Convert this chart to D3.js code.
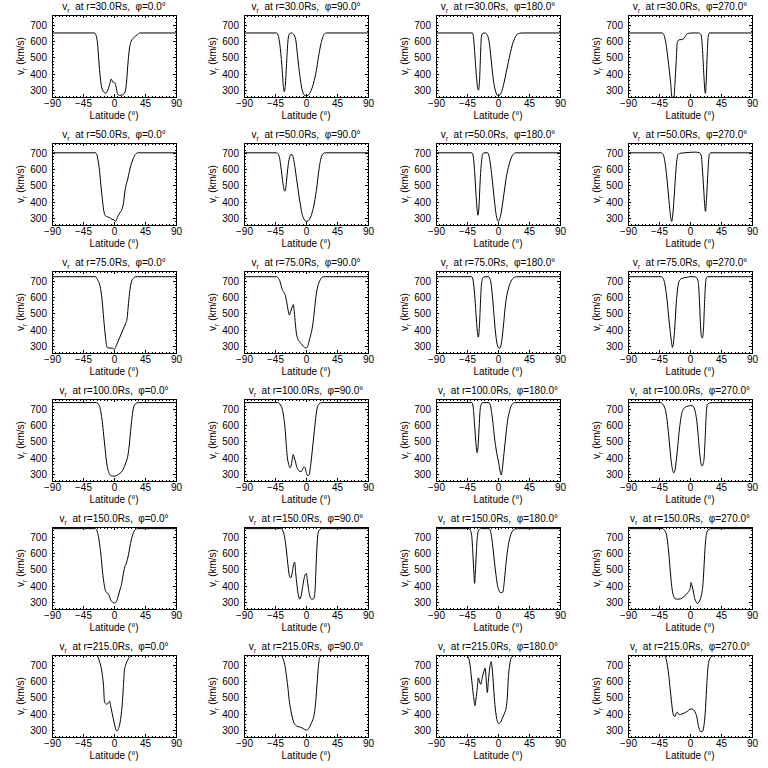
<!DOCTYPE html>
<html><head><meta charset="utf-8">
<script src="https://cdn.jsdelivr.net/npm/d3@7"></script>
<style>
body{margin:0;background:#fff}
text{font-family:"Liberation Sans","DejaVu Sans",sans-serif;fill:#000;white-space:pre}
</style>
</head><body><svg id="chart" width="768" height="768"></svg>
<script>
// ---- data ----
const radii = [30, 50, 75, 100, 150, 215];
const phis = [0, 90, 180, 270];
const xTicks = [-90, -45, 0, 45, 90];
const yTicks = [300, 400, 500, 600, 700];
const latDomain = [-90, 90];
const vDomain = [258, 760];

const v30_p0 = [[-90,650],[-28,650],[-26,635],[-24,590],[-22,480],[-20,380],[-18,320],[-15,290],[-12,282],[-9,300],[-6,340],[-4,368],[-2,352],[1,345],[3,320],[5,278],[8,268],[12,270],[16,288],[18,340],[20,450],[22,540],[25,600],[29,622],[34,640],[38,650],[90,650]];
const v30_p90 = [[-90,650],[-43,650],[-40,630],[-38,580],[-35,450],[-33,330],[-31.5,290],[-30,330],[-28,480],[-26,610],[-24,645],[-21,650],[-18,642],[-15,610],[-12,500],[-9,390],[-6,310],[-3,272],[0,265],[3,268],[6,285],[9,315],[12,360],[15,420],[18,500],[21,570],[24,620],[27,645],[30,650],[90,650]];
const v30_p180 = [[-90,650],[-37,650],[-35,600],[-33,480],[-31,370],[-28.5,300],[-27,340],[-25.5,500],[-24,630],[-22,648],[-19,650],[-16,640],[-13,600],[-10,490],[-7,370],[-4,300],[-2,275],[0,265],[3,272],[6,300],[9,350],[12,410],[15,470],[18,530],[21,580],[24,615],[27,638],[31,648],[35,650],[90,650]];
const v30_p270 = [[-90,650],[-40,650],[-38,640],[-36,610],[-34,560],[-32,490],[-30,420],[-28,340],[-26,250],[-23.5,250],[-22,330],[-20,480],[-18.5,590],[-16,608],[-12,610],[-9,615],[-7,628],[-5,642],[-2,648],[2,650],[12,650],[16,640],[18,560],[20,400],[21.5,300],[22.5,280],[23.5,350],[25,520],[26.5,630],[28,650],[90,650]];

const v50_p0 = [[-90,700],[-27,700],[-25,690],[-23,650],[-21,590],[-19,500],[-17,420],[-15,350],[-13,318],[-10,308],[-6,303],[-3,292],[0,290],[2,280],[4,295],[6,315],[9,335],[12,360],[14,400],[16,470],[18,510],[20,540],[22,580],[25,630],[28,665],[31,690],[35,700],[90,700]];
const v50_p90 = [[-90,700],[-43,700],[-40,690],[-38,660],[-36,600],[-34,530],[-32,478],[-31,465],[-29.5,480],[-28,540],[-26,620],[-24,670],[-22,690],[-20,688],[-18,660],[-16,610],[-14,550],[-12,490],[-10,430],[-8,380],[-6,330],[-3,295],[0,280],[3,283],[6,300],[9,335],[12,390],[14,440],[16,500],[18,570],[20,630],[22,670],[25,695],[28,700],[90,700]];
const v50_p180 = [[-90,700],[-38,700],[-36,680],[-34,590],[-32,450],[-30,340],[-29,318],[-27.5,380],[-26,520],[-24,640],[-22,695],[-19,700],[-15,700],[-13,680],[-11,630],[-9,560],[-7,480],[-5,400],[-3,330],[-1,290],[0.5,282],[2,290],[4,320],[6,370],[8,430],[10,490],[12,550],[15,610],[18,655],[22,690],[26,700],[90,700]];
const v50_p270 = [[-90,700],[-42,700],[-39,690],[-37,660],[-35,600],[-33,520],[-31,430],[-29,340],[-27.5,290],[-26.5,280],[-25,320],[-23,430],[-21,560],[-19,660],[-17,692],[-13,698],[-8,700],[0,703],[8,704],[14,700],[16.5,680],[18,600],[20,470],[21.5,370],[22.5,342],[24,420],[26,580],[28,690],[30,700],[90,700]];

const v75_p0 = [[-90,725],[-27,725],[-25,715],[-23,700],[-21,680],[-19,640],[-17,570],[-15,470],[-13,380],[-11,310],[-9.5,290],[-6,288],[-2,288],[0,280],[2,290],[5,320],[8,350],[11,380],[14,410],[17,440],[19,470],[21,560],[23,640],[25,690],[28,715],[32,725],[90,725]];
const v75_p90 = [[-90,725],[-43,725],[-40,715],[-38,700],[-36,670],[-34,640],[-32,630],[-30,610],[-28,570],[-26,520],[-24,490],[-22,515],[-20,540],[-18.5,555],[-17,510],[-15.5,440],[-14,380],[-12,345],[-10,330],[-7,315],[-4,300],[-1,290],[1,290],[3,305],[5,340],[7,370],[9,410],[11,470],[13,550],[15,620],[17,665],[20,700],[23,720],[26,725],[90,725]];
const v75_p180 = [[-90,725],[-38,725],[-36,700],[-34,620],[-32,500],[-30,390],[-28.5,355],[-27,420],[-25.5,560],[-24,680],[-22,718],[-19,725],[-14,725],[-12,715],[-10,680],[-8,600],[-6,500],[-4,400],[-2,330],[0,295],[2,285],[4,300],[6,350],[8,430],[10,520],[12,590],[15,650],[18,690],[22,715],[27,725],[90,725]];
const v75_p270 = [[-90,725],[-42,725],[-39,715],[-37,690],[-35,640],[-33,570],[-31,480],[-29,400],[-27,330],[-25.5,292],[-24,320],[-22,420],[-20,560],[-18,650],[-16,695],[-13,712],[-9,718],[-4,722],[0,725],[6,725],[10,718],[12,690],[13.5,600],[15,450],[16.5,360],[18,350],[19.5,400],[21,550],[22.5,680],[24,720],[26,725],[90,725]];

const v100_p0 = [[-90,738],[-25,738],[-23,730],[-21,715],[-19,680],[-17,620],[-15,540],[-13,460],[-11,380],[-9,330],[-7,305],[-5,292],[-2,288],[1,288],[4,292],[7,300],[10,310],[12,320],[15,345],[18,380],[20,410],[22,470],[24,560],[26,640],[28,700],[31,730],[35,738],[90,738]];
const v100_p90 = [[-90,738],[-41,738],[-38,730],[-36,715],[-34,690],[-32,640],[-30,560],[-28.5,470],[-27,400],[-25,360],[-23.5,340],[-22,345],[-20,390],[-18.5,420],[-17,400],[-15,370],[-13,340],[-10,320],[-7,315],[-5,330],[-3,345],[-1.5,340],[0.5,310],[2.5,290],[4.5,295],[6,330],[8,400],[10,480],[12,560],[14,640],[16,700],[19,730],[23,738],[90,738]];
const v100_p180 = [[-90,738],[-38,738],[-36,710],[-34,600],[-32,490],[-30.5,432],[-29,470],[-27.5,580],[-26,690],[-24,730],[-22,738],[-13,738],[-11,720],[-9,670],[-7,600],[-5,520],[-3,460],[-1,410],[1,370],[3,320],[4.5,295],[6,320],[8,400],[10,480],[12,560],[14,630],[17,690],[20,725],[24,738],[90,738]];
const v100_p270 = [[-90,738],[-43,738],[-40,730],[-37,710],[-35,680],[-33,620],[-31,540],[-29,450],[-27,370],[-25,320],[-23.5,308],[-22,320],[-20,380],[-18,460],[-16,550],[-14,620],[-12,670],[-10,695],[-7,710],[-3,716],[1,720],[4,718],[6,705],[8,675],[10,620],[12,530],[14,430],[16,365],[17.5,350],[19,360],[20.5,400],[22,520],[23.5,660],[25,725],[28,735],[33,738],[90,738]];

const v150_p0 = [[-90,750],[-27,750],[-25,740],[-23,710],[-21,660],[-19,590],[-17,500],[-15,430],[-13,380],[-11,360],[-9,355],[-7,340],[-5,315],[-2,300],[1,295],[3,300],[5,320],[7,350],[9,380],[11,410],[13,460],[15,505],[18,540],[21,590],[24,660],[27,710],[30,740],[34,750],[90,750]];
const v150_p90 = [[-90,750],[-36,750],[-34,740],[-32,715],[-30,670],[-28,600],[-26,520],[-24,460],[-22,448],[-20,480],[-18,530],[-16.5,545],[-15,480],[-13,400],[-11,340],[-9,318],[-7,340],[-5,390],[-3,440],[-1,470],[0.5,475],[2,430],[4,370],[6,330],[8,318],[10,318],[12,330],[13.5,400],[15,560],[16.5,680],[18,730],[21,748],[25,750],[90,750]];
const v150_p180 = [[-90,750],[-42,750],[-40,740],[-38,700],[-36.5,600],[-35,480],[-34,415],[-33,470],[-31.5,600],[-30,700],[-28,740],[-25,750],[-13,750],[-11,735],[-9,690],[-7,620],[-5,540],[-3,470],[-1,410],[1,375],[3,360],[5,358],[7,362],[9,420],[11,510],[13,590],[15,650],[18,705],[21,735],[25,748],[30,750],[90,750]];
const v150_p270 = [[-90,750],[-40,750],[-37,740],[-34,710],[-32,650],[-30,560],[-28,460],[-26,380],[-24,340],[-22,322],[-18,318],[-14,320],[-10,330],[-6,345],[-3,360],[-1,370],[0.5,390],[1.5,420],[3,400],[5,360],[7,320],[9,300],[11,292],[13,300],[15,320],[17,350],[19,420],[20.5,530],[22,640],[24,720],[27,745],[31,750],[90,750]];

const v215_p0 = [[-90,757],[-25,757],[-23,745],[-21,720],[-19,690],[-17,640],[-15,560],[-14,480],[-12,462],[-10,458],[-8,470],[-6.5,478],[-5,450],[-3,410],[-1,370],[1,330],[3,300],[4.5,295],[6,305],[8,330],[10,380],[12,460],[13.5,560],[15,660],[17,700],[20,730],[24,752],[28,757],[90,757]];
const v215_p90 = [[-90,757],[-36,757],[-34,745],[-32,720],[-30,680],[-28,620],[-26,550],[-24,470],[-22,420],[-20,380],[-18,350],[-15,330],[-12,322],[-8,318],[-4,310],[-1,302],[1,300],[3,305],[5,318],[8,345],[10,365],[12,400],[14,470],[16,580],[18,690],[20,745],[23,757],[90,757]];
const v215_p180 = [[-90,757],[-45,757],[-43,745],[-41,710],[-39,640],[-37,560],[-35,490],[-33.5,450],[-32,490],[-30,560],[-28.5,620],[-27,600],[-25,580],[-23,620],[-21,650],[-18.5,680],[-17,600],[-15.5,530],[-14,600],[-12,680],[-10,720],[-8.5,680],[-7,600],[-5,480],[-3,400],[-1,355],[1,340],[4,350],[7,380],[10,410],[12,440],[13.5,500],[15,620],[17,700],[19,740],[22,755],[25,757],[90,757]];
const v215_p270 = [[-90,757],[-37,757],[-35,740],[-33,700],[-31,640],[-29,560],[-27,480],[-25,410],[-23,385],[-21.5,385],[-20,405],[-18.5,410],[-17,400],[-15,395],[-12,398],[-8,405],[-4,415],[0,428],[3,430],[6,420],[8,405],[10,380],[12,330],[14,300],[16,290],[18,292],[20,320],[22,400],[24,550],[26,680],[28,730],[31,750],[36,757],[90,757]];

const seriesByRow = [
  [v30_p0, v30_p90, v30_p180, v30_p270],
  [v50_p0, v50_p90, v50_p180, v50_p270],
  [v75_p0, v75_p90, v75_p180, v75_p270],
  [v100_p0, v100_p90, v100_p180, v100_p270],
  [v150_p0, v150_p90, v150_p180, v150_p270],
  [v215_p0, v215_p90, v215_p180, v215_p270]
];

// ---- layout ----
const cellW = 192, cellH = 128;
const m = {l: 52, r: 16, t: 15, b: 31};
const pw = cellW - m.l - m.r, ph = cellH - m.t - m.b;
const x = d3.scaleLinear().domain(latDomain).range([0, pw]);
const y = d3.scaleLinear().domain(vDomain).range([ph, 0]);
const minorX = d3.range(-90, 91, 5);
const minorY = d3.range(260, 761, 20);
const line = d3.line().x(d => x(d[0])).y(d => y(d[1])).curve(d3.curveMonotoneX);

const svg = d3.select("#chart");
svg.append("rect").attr("width", 768).attr("height", 768).attr("fill", "#fff");

function styleAxis(g, labels) {
  g.select(".domain").remove();
  g.selectAll(".tick line").attr("stroke", "#000").attr("shape-rendering", "crispEdges");
  if (!labels) g.selectAll(".tick text").remove();
  else g.selectAll(".tick text").attr("font-size", 10).attr("fill", "#000")
        .attr("font-family", "'Liberation Sans','DejaVu Sans',sans-serif");
}

radii.forEach((r, ri) => {
  phis.forEach((p, ci) => {
    const data = seriesByRow[ri][ci];
    const g = svg.append("g").attr("transform", `translate(${ci * cellW + m.l},${ri * cellH + m.t})`);
    const cid = `clip${ri}_${ci}`;
    g.append("clipPath").attr("id", cid).append("rect").attr("width", pw).attr("height", ph);

    // minor ticks
    g.append("g").attr("transform", `translate(0,${ph})`)
      .call(d3.axisBottom(x).tickValues(minorX).tickSize(-1.5).tickFormat("")).call(gg => styleAxis(gg, false));
    g.append("g").call(d3.axisTop(x).tickValues(minorX).tickSize(-1.5).tickFormat("")).call(gg => styleAxis(gg, false));
    g.append("g").call(d3.axisLeft(y).tickValues(minorY).tickSize(-1.5).tickFormat("")).call(gg => styleAxis(gg, false));
    g.append("g").attr("transform", `translate(${pw},0)`)
      .call(d3.axisRight(y).tickValues(minorY).tickSize(-1.5).tickFormat("")).call(gg => styleAxis(gg, false));
    // major ticks
    g.append("g").attr("transform", `translate(0,${ph})`)
      .call(d3.axisBottom(x).tickValues(xTicks).tickSize(-3).tickPadding(3)).call(gg => styleAxis(gg, true));
    g.append("g").call(d3.axisTop(x).tickValues(xTicks).tickSize(-3).tickFormat("")).call(gg => styleAxis(gg, false));
    g.append("g").call(d3.axisLeft(y).tickValues(yTicks).tickSize(-3).tickPadding(5)).call(gg => styleAxis(gg, true));
    g.append("g").attr("transform", `translate(${pw},0)`)
      .call(d3.axisRight(y).tickValues(yTicks).tickSize(-3).tickFormat("")).call(gg => styleAxis(gg, false));

    // box
    g.append("rect").attr("x", 0).attr("y", 0).attr("width", pw).attr("height", ph)
      .attr("fill", "none").attr("stroke", "#000").attr("shape-rendering", "crispEdges");

    // data line
    g.append("path").datum(data).attr("clip-path", `url(#${cid})`)
      .attr("d", line).attr("fill", "none").attr("stroke", "#000").attr("stroke-width", 1);

    // title
    const t = g.append("text").attr("x", pw / 2).attr("y", -5).attr("text-anchor", "middle").attr("font-size", 10);
    t.append("tspan").text("v");
    t.append("tspan").attr("font-size", 7).attr("dy", 2.5).text("r");
    t.append("tspan").attr("dy", -2.5).text(`  at r=${r.toFixed(1)}Rs,  \u03c6=${p.toFixed(1)}\u00b0`);

    // x label
    g.append("text").attr("x", pw / 2).attr("y", ph + 22).attr("text-anchor", "middle")
      .attr("font-size", 10).text("Latitude (\u00b0)");
    // y label
    const yl = g.append("text").attr("transform", "rotate(-90)").attr("x", -ph / 2).attr("y", -28)
      .attr("text-anchor", "middle").attr("font-size", 10);
    yl.append("tspan").text("v");
    yl.append("tspan").attr("font-size", 7).attr("dy", 2.5).text("r");
    yl.append("tspan").attr("dy", -2.5).text(" (km/s)");
  });
});
</script>
</body></html>
